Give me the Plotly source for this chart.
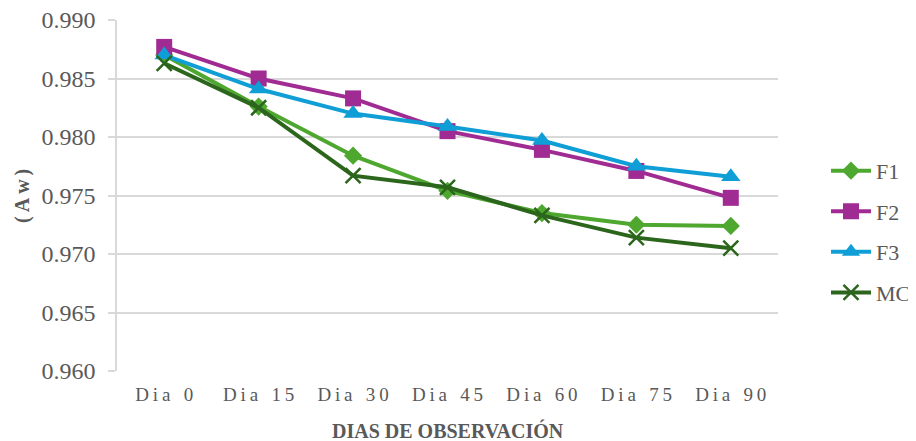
import plotly.graph_objects as go

categories = ["Dia 0", "Dia 15", "Dia 30", "Dia 45", "Dia 60", "Dia 75", "Dia 90"]
f1 = [0.9870, 0.9826, 0.9784, 0.9754, 0.9735, 0.9725, 0.9724]
f2 = [0.9877, 0.9850, 0.9833, 0.9805, 0.9789, 0.9771, 0.9748]
f3 = [0.9870, 0.9841, 0.9820, 0.9809, 0.9797, 0.9775, 0.9766]
mc = [0.9863, 0.9825, 0.9767, 0.9757, 0.9733, 0.9714, 0.9705]
y_ticks = [0.960, 0.965, 0.970, 0.975, 0.980, 0.985, 0.990]

series = [
    ("F1", f1, "#4EA72E", "diamond", 14),
    ("F2", f2, "#A02B93", "square", 16),
    ("F3", f3, "#0F9ED5", "triangle-up", 17),
    ("MC", mc, "#2B661C", "x-thin", 15),
]

def spaced(s):
    return "\u2009".join(list(s)).replace("\u2009 \u2009", "\u2002\u2009")

fig = go.Figure()
for name, vals, color, sym, size in series:
    marker = dict(symbol=sym, size=size, color=color)
    if sym == "x-thin":
        marker["line"] = dict(color=color, width=2.5)
    fig.add_trace(go.Scatter(
        x=categories, y=vals, name=name, mode="lines+markers",
        line=dict(color=color, width=4), marker=marker, legendgroup=name,
    ))

serif = "Liberation Serif"
fig.update_layout(
    width=916, height=441,
    margin=dict(l=109, r=146, t=12, b=78, autoexpand=False),
    paper_bgcolor="white", plot_bgcolor="white",
    font=dict(family=serif, color="#595959"),
    showlegend=True,
    legend=dict(x=1.0726, y=0.63, xanchor="left", yanchor="top",
                font=dict(size=22, color="#595959", family=serif),
                tracegroupgap=9, itemwidth=40, bgcolor="rgba(0,0,0,0)"),
    xaxis=dict(
        type="category", tickmode="array", tickvals=categories,
        ticktext=[spaced(c) for c in categories],
        tickfont=dict(size=19, color="#595959", family=serif),
        showgrid=False, showline=False, ticks="", zeroline=False,
        range=[-0.5, len(categories) - 0.5], automargin=False,
        ticklabelstandoff=10,
    ),
    yaxis=dict(
        range=[y_ticks[0], y_ticks[-1]], tickmode="array", tickvals=y_ticks,
        ticktext=["%.3f" % v for v in y_ticks],
        tickfont=dict(size=24, color="#595959", family=serif),
        ticklabeloverflow="allow",
        showgrid=True, gridcolor="#D9D9D9", gridwidth=1.5,
        showline=True, linecolor="#D9D9D9", linewidth=1.5,
        ticks="outside", ticklen=7, tickcolor="#D9D9D9", tickwidth=1.5,
        zeroline=False, automargin=False, ticklabelstandoff=8,
    ),
    annotations=[
        dict(text="<b>DIAS DE OBSERVACIÓN</b>", xref="paper", yref="paper",
             x=0.5, y=-0.17, xanchor="center", yanchor="middle", showarrow=False,
             font=dict(size=20, color="#595959", family=serif)),
        dict(text="<b>" + spaced("(Aw)") + "</b>", xref="paper", yref="paper",
             x=-0.143, y=0.5, xanchor="center", yanchor="middle", showarrow=False,
             textangle=-90, font=dict(size=20, color="#595959", family=serif)),
    ],
)

fig.write_html("out.html")
